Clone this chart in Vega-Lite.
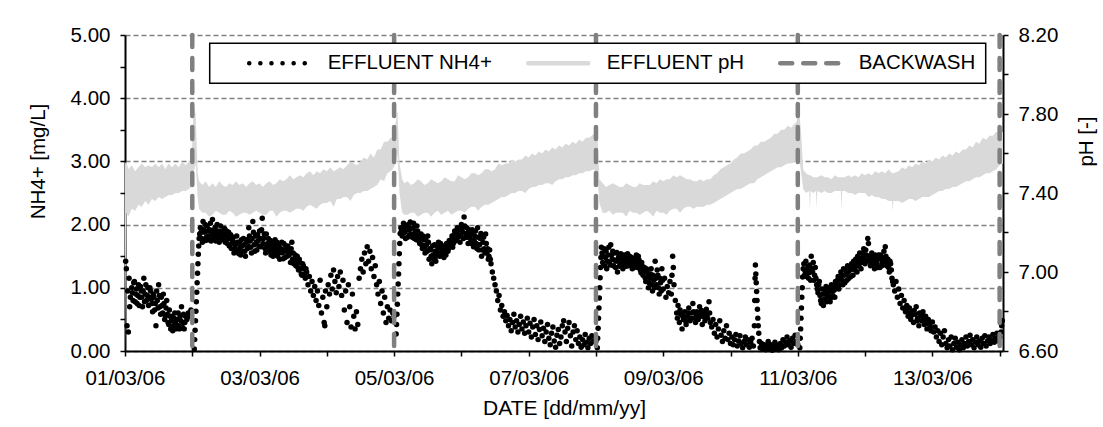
{
"$schema":"https://vega.github.io/schema/vega-lite/v6.json",
"width":878,"height":316,"autosize":"none",
"padding":{"left":125,"top":35,"right":100,"bottom":76},
"background":"white",
"config":{"font":"Liberation Sans","view":{"stroke":null},
"axis":{"labelFont":"Liberation Sans","labelFontSize":20.5,"labelColor":"black","titleFont":"Liberation Sans","titleFontSize":20.5,"titleFontWeight":"normal","titleColor":"black","domainColor":"black","domainWidth":2,"tickColor":"black","tickWidth":1.5,"tickSize":5,"labelPadding":10,"grid":false,"labelFlush":false},
"legend":{"strokeWidth":1.5}},
"resolve":{"scale":{"y":"independent"}},
"layer":[
{"data":{"values":[
{"t":0,"lo":6.6,"hi":7.55},{"t":0.02,"lo":7.30,"hi":7.56},{"t":0.05,"lo":7.28,"hi":7.52},{"t":0.1,"lo":7.32,"hi":7.54},{"t":0.15,"lo":7.31,"hi":7.51},{"t":0.2,"lo":7.34,"hi":7.53},{"t":0.25,"lo":7.33,"hi":7.55},{"t":0.3,"lo":7.36,"hi":7.53},{"t":0.35,"lo":7.34,"hi":7.54},{"t":0.4,"lo":7.37,"hi":7.53},{"t":0.45,"lo":7.36,"hi":7.55},{"t":0.5,"lo":7.38,"hi":7.53},{"t":0.55,"lo":7.37,"hi":7.55},{"t":0.6,"lo":7.38,"hi":7.52},{"t":0.65,"lo":7.39,"hi":7.55},{"t":0.7,"lo":7.39,"hi":7.53},{"t":0.75,"lo":7.40,"hi":7.55},{"t":0.8,"lo":7.40,"hi":7.53},{"t":0.85,"lo":7.41,"hi":7.56},{"t":0.9,"lo":7.41,"hi":7.54},{"t":0.95,"lo":7.42,"hi":7.56},{"t":0.99,"lo":7.43,"hi":7.56},
{"t":1.02,"lo":7.50,"hi":7.85},{"t":1.05,"lo":7.55,"hi":7.80},{"t":1.08,"lo":7.38,"hi":7.50},{"t":1.1,"lo":7.32,"hi":7.46},
{"t":1.15,"lo":7.30,"hi":7.44},{"t":1.2,"lo":7.30,"hi":7.46},{"t":1.25,"lo":7.28,"hi":7.43},{"t":1.3,"lo":7.29,"hi":7.45},{"t":1.35,"lo":7.31,"hi":7.43},{"t":1.4,"lo":7.30,"hi":7.46},{"t":1.45,"lo":7.29,"hi":7.44},{"t":1.5,"lo":7.29,"hi":7.43},{"t":1.55,"lo":7.31,"hi":7.45},{"t":1.6,"lo":7.30,"hi":7.44},{"t":1.65,"lo":7.28,"hi":7.46},{"t":1.7,"lo":7.29,"hi":7.44},{"t":1.75,"lo":7.30,"hi":7.45},{"t":1.8,"lo":7.30,"hi":7.43},{"t":1.85,"lo":7.29,"hi":7.45},{"t":1.9,"lo":7.30,"hi":7.46},{"t":1.95,"lo":7.31,"hi":7.44},{"t":2.0,"lo":7.30,"hi":7.45},{"t":2.05,"lo":7.29,"hi":7.43},{"t":2.1,"lo":7.29,"hi":7.45},{"t":2.15,"lo":7.31,"hi":7.46},{"t":2.2,"lo":7.31,"hi":7.44},{"t":2.25,"lo":7.28,"hi":7.45},{"t":2.3,"lo":7.30,"hi":7.47},{"t":2.35,"lo":7.31,"hi":7.46},{"t":2.4,"lo":7.31,"hi":7.47},{"t":2.45,"lo":7.30,"hi":7.49},{"t":2.5,"lo":7.31,"hi":7.47},{"t":2.55,"lo":7.32,"hi":7.48},{"t":2.6,"lo":7.32,"hi":7.49},{"t":2.65,"lo":7.31,"hi":7.48},{"t":2.7,"lo":7.33,"hi":7.50},{"t":2.75,"lo":7.34,"hi":7.51},{"t":2.8,"lo":7.33,"hi":7.49},{"t":2.85,"lo":7.32,"hi":7.51},{"t":2.9,"lo":7.34,"hi":7.50},{"t":2.95,"lo":7.35,"hi":7.52},{"t":3.0,"lo":7.35,"hi":7.51},{"t":3.05,"lo":7.36,"hi":7.53},{"t":3.1,"lo":7.33,"hi":7.51},{"t":3.15,"lo":7.37,"hi":7.52},{"t":3.2,"lo":7.37,"hi":7.53},{"t":3.25,"lo":7.38,"hi":7.52},{"t":3.3,"lo":7.38,"hi":7.54},{"t":3.35,"lo":7.36,"hi":7.56},{"t":3.4,"lo":7.39,"hi":7.55},{"t":3.45,"lo":7.40,"hi":7.54},{"t":3.5,"lo":7.40,"hi":7.56},{"t":3.55,"lo":7.41,"hi":7.58},{"t":3.6,"lo":7.41,"hi":7.57},{"t":3.65,"lo":7.42,"hi":7.60},{"t":3.7,"lo":7.43,"hi":7.58},{"t":3.75,"lo":7.44,"hi":7.62},{"t":3.8,"lo":7.47,"hi":7.62},{"t":3.85,"lo":7.46,"hi":7.66},{"t":3.9,"lo":7.50,"hi":7.66},{"t":3.95,"lo":7.51,"hi":7.68},{"t":3.98,"lo":7.52,"hi":7.68},
{"t":4.02,"lo":7.55,"hi":7.75},{"t":4.05,"lo":7.60,"hi":7.82},{"t":4.08,"lo":7.40,"hi":7.55},{"t":4.12,"lo":7.30,"hi":7.47},
{"t":4.15,"lo":7.29,"hi":7.45},{"t":4.2,"lo":7.29,"hi":7.46},{"t":4.25,"lo":7.30,"hi":7.44},{"t":4.3,"lo":7.30,"hi":7.45},{"t":4.35,"lo":7.28,"hi":7.47},{"t":4.4,"lo":7.29,"hi":7.46},{"t":4.45,"lo":7.30,"hi":7.44},{"t":4.5,"lo":7.30,"hi":7.45},{"t":4.55,"lo":7.28,"hi":7.47},{"t":4.6,"lo":7.30,"hi":7.46},{"t":4.65,"lo":7.31,"hi":7.45},{"t":4.7,"lo":7.29,"hi":7.46},{"t":4.75,"lo":7.30,"hi":7.48},{"t":4.8,"lo":7.31,"hi":7.47},{"t":4.85,"lo":7.29,"hi":7.46},{"t":4.9,"lo":7.30,"hi":7.46},{"t":4.95,"lo":7.31,"hi":7.49},{"t":5.0,"lo":7.31,"hi":7.48},{"t":5.05,"lo":7.30,"hi":7.47},{"t":5.1,"lo":7.32,"hi":7.48},{"t":5.15,"lo":7.33,"hi":7.50},{"t":5.2,"lo":7.33,"hi":7.50},{"t":5.25,"lo":7.31,"hi":7.49},{"t":5.3,"lo":7.33,"hi":7.50},{"t":5.35,"lo":7.34,"hi":7.52},{"t":5.4,"lo":7.34,"hi":7.52},{"t":5.45,"lo":7.35,"hi":7.51},{"t":5.5,"lo":7.36,"hi":7.52},{"t":5.55,"lo":7.37,"hi":7.55},{"t":5.6,"lo":7.38,"hi":7.54},{"t":5.65,"lo":7.38,"hi":7.55},{"t":5.7,"lo":7.39,"hi":7.55},{"t":5.75,"lo":7.40,"hi":7.57},{"t":5.8,"lo":7.40,"hi":7.56},{"t":5.85,"lo":7.41,"hi":7.57},{"t":5.9,"lo":7.41,"hi":7.57},{"t":5.95,"lo":7.40,"hi":7.59},{"t":6.0,"lo":7.42,"hi":7.58},{"t":6.05,"lo":7.43,"hi":7.60},{"t":6.1,"lo":7.43,"hi":7.59},{"t":6.15,"lo":7.44,"hi":7.61},{"t":6.2,"lo":7.44,"hi":7.60},{"t":6.25,"lo":7.45,"hi":7.62},{"t":6.3,"lo":7.45,"hi":7.61},{"t":6.35,"lo":7.44,"hi":7.63},{"t":6.4,"lo":7.46,"hi":7.62},{"t":6.45,"lo":7.47,"hi":7.64},{"t":6.5,"lo":7.47,"hi":7.63},{"t":6.55,"lo":7.48,"hi":7.65},{"t":6.6,"lo":7.48,"hi":7.64},{"t":6.65,"lo":7.49,"hi":7.66},{"t":6.7,"lo":7.49,"hi":7.65},{"t":6.75,"lo":7.50,"hi":7.67},{"t":6.8,"lo":7.50,"hi":7.66},{"t":6.85,"lo":7.51,"hi":7.68},{"t":6.9,"lo":7.51,"hi":7.68},{"t":6.97,"lo":7.52,"hi":7.70},
{"t":7.02,"lo":7.50,"hi":7.72},{"t":7.05,"lo":7.35,"hi":7.47},{"t":7.1,"lo":7.30,"hi":7.45},
{"t":7.15,"lo":7.30,"hi":7.43},{"t":7.2,"lo":7.31,"hi":7.44},{"t":7.25,"lo":7.29,"hi":7.45},{"t":7.3,"lo":7.30,"hi":7.44},{"t":7.35,"lo":7.30,"hi":7.43},{"t":7.4,"lo":7.30,"hi":7.43},{"t":7.45,"lo":7.28,"hi":7.45},{"t":7.5,"lo":7.31,"hi":7.44},{"t":7.55,"lo":7.30,"hi":7.43},{"t":7.6,"lo":7.30,"hi":7.43},{"t":7.65,"lo":7.29,"hi":7.45},{"t":7.7,"lo":7.30,"hi":7.44},{"t":7.75,"lo":7.31,"hi":7.44},{"t":7.8,"lo":7.30,"hi":7.44},{"t":7.85,"lo":7.28,"hi":7.46},{"t":7.9,"lo":7.31,"hi":7.45},{"t":7.95,"lo":7.30,"hi":7.47},{"t":8.0,"lo":7.30,"hi":7.46},{"t":8.05,"lo":7.29,"hi":7.47},{"t":8.1,"lo":7.31,"hi":7.47},{"t":8.15,"lo":7.32,"hi":7.49},{"t":8.2,"lo":7.32,"hi":7.48},{"t":8.25,"lo":7.30,"hi":7.49},{"t":8.3,"lo":7.32,"hi":7.48},{"t":8.35,"lo":7.33,"hi":7.47},{"t":8.4,"lo":7.33,"hi":7.47},{"t":8.45,"lo":7.32,"hi":7.46},{"t":8.5,"lo":7.33,"hi":7.46},{"t":8.55,"lo":7.33,"hi":7.47},{"t":8.6,"lo":7.33,"hi":7.46},{"t":8.65,"lo":7.34,"hi":7.47},{"t":8.7,"lo":7.34,"hi":7.47},{"t":8.75,"lo":7.35,"hi":7.49},{"t":8.8,"lo":7.36,"hi":7.50},{"t":8.85,"lo":7.37,"hi":7.52},{"t":8.9,"lo":7.38,"hi":7.53},{"t":8.95,"lo":7.39,"hi":7.54},{"t":9.0,"lo":7.40,"hi":7.55},{"t":9.05,"lo":7.41,"hi":7.57},{"t":9.1,"lo":7.42,"hi":7.58},{"t":9.15,"lo":7.42,"hi":7.60},{"t":9.2,"lo":7.43,"hi":7.60},{"t":9.25,"lo":7.44,"hi":7.61},{"t":9.3,"lo":7.45,"hi":7.62},{"t":9.35,"lo":7.45,"hi":7.64},{"t":9.4,"lo":7.47,"hi":7.64},{"t":9.45,"lo":7.48,"hi":7.66},{"t":9.5,"lo":7.49,"hi":7.66},{"t":9.55,"lo":7.50,"hi":7.67},{"t":9.6,"lo":7.51,"hi":7.68},{"t":9.65,"lo":7.52,"hi":7.70},{"t":9.7,"lo":7.53,"hi":7.70},{"t":9.75,"lo":7.53,"hi":7.72},{"t":9.8,"lo":7.54,"hi":7.72},{"t":9.85,"lo":7.55,"hi":7.74},{"t":9.9,"lo":7.55,"hi":7.73},{"t":9.95,"lo":7.56,"hi":7.75},{"t":9.98,"lo":7.56,"hi":7.76},
{"t":10.02,"lo":7.58,"hi":7.82},{"t":10.05,"lo":7.50,"hi":7.70},{"t":10.08,"lo":7.42,"hi":7.52},{"t":10.12,"lo":7.40,"hi":7.50},
{"t":10.17,"lo":7.41,"hi":7.49},{"t":10.18,"lo":7.31,"hi":7.49},{"t":10.19,"lo":7.41,"hi":7.49},{"t":10.23,"lo":7.40,"hi":7.48},{"t":10.27,"lo":7.41,"hi":7.48},{"t":10.28,"lo":7.32,"hi":7.48},{"t":10.29,"lo":7.41,"hi":7.48},{"t":10.35,"lo":7.40,"hi":7.49},{"t":10.4,"lo":7.41,"hi":7.48},{"t":10.45,"lo":7.40,"hi":7.48},{"t":10.5,"lo":7.40,"hi":7.47},{"t":10.55,"lo":7.41,"hi":7.49},{"t":10.6,"lo":7.41,"hi":7.48},{"t":10.64,"lo":7.41,"hi":7.48},{"t":10.65,"lo":7.31,"hi":7.48},{"t":10.66,"lo":7.41,"hi":7.48},{"t":10.7,"lo":7.41,"hi":7.48},{"t":10.75,"lo":7.40,"hi":7.49},{"t":10.8,"lo":7.40,"hi":7.48},{"t":10.85,"lo":7.39,"hi":7.49},{"t":10.9,"lo":7.40,"hi":7.48},{"t":10.95,"lo":7.40,"hi":7.50},{"t":11.0,"lo":7.40,"hi":7.49},{"t":11.05,"lo":7.38,"hi":7.50},{"t":11.1,"lo":7.39,"hi":7.49},{"t":11.15,"lo":7.38,"hi":7.51},{"t":11.2,"lo":7.38,"hi":7.50},{"t":11.25,"lo":7.37,"hi":7.51},{"t":11.3,"lo":7.37,"hi":7.50},{"t":11.35,"lo":7.36,"hi":7.52},{"t":11.40,"lo":7.36,"hi":7.50},{"t":11.41,"lo":7.31,"hi":7.50},{"t":11.42,"lo":7.36,"hi":7.50},{"t":11.5,"lo":7.36,"hi":7.51},{"t":11.55,"lo":7.35,"hi":7.53},{"t":11.6,"lo":7.36,"hi":7.52},{"t":11.65,"lo":7.37,"hi":7.54},{"t":11.7,"lo":7.37,"hi":7.53},{"t":11.75,"lo":7.36,"hi":7.55},{"t":11.8,"lo":7.37,"hi":7.54},{"t":11.85,"lo":7.38,"hi":7.56},{"t":11.9,"lo":7.38,"hi":7.55},{"t":11.95,"lo":7.38,"hi":7.57},{"t":12.0,"lo":7.39,"hi":7.56},{"t":12.05,"lo":7.40,"hi":7.58},{"t":12.1,"lo":7.41,"hi":7.57},{"t":12.15,"lo":7.41,"hi":7.59},{"t":12.2,"lo":7.42,"hi":7.58},{"t":12.25,"lo":7.42,"hi":7.60},{"t":12.3,"lo":7.43,"hi":7.59},{"t":12.35,"lo":7.43,"hi":7.61},{"t":12.4,"lo":7.44,"hi":7.60},{"t":12.45,"lo":7.45,"hi":7.62},{"t":12.5,"lo":7.46,"hi":7.62},{"t":12.55,"lo":7.46,"hi":7.64},{"t":12.6,"lo":7.47,"hi":7.63},{"t":12.65,"lo":7.48,"hi":7.66},{"t":12.7,"lo":7.48,"hi":7.65},{"t":12.75,"lo":7.49,"hi":7.68},{"t":12.8,"lo":7.50,"hi":7.67},{"t":12.85,"lo":7.50,"hi":7.69},{"t":12.9,"lo":7.51,"hi":7.69},{"t":12.95,"lo":7.52,"hi":7.71},{"t":13.0,"lo":7.54,"hi":7.70},{"t":13.05,"lo":7.55,"hi":7.71}
]},
"mark":{"type":"area","color":"#d9d9d9","clip":true},
"encoding":{
"x":{"field":"t","type":"quantitative","scale":{"domain":[0,13.05],"nice":false,"zero":false},
"axis":{"title":"DATE [dd/mm/yy]","titleFontSize":21,"titlePadding":9,"labelPadding":12,"values":[0,1,2,3,4,5,6,7,8,9,10,11,12,13],"labelExpr":"datum.value % 2 == 0 ? timeFormat(datetime(2006, 2, 1 + datum.value), '%d/%m/%y') : ''"}},
"y":{"field":"lo","type":"quantitative","scale":{"domain":[6.6,8.2],"nice":false,"zero":false},
"axis":{"orient":"right","title":"pH [-]","titleAngle":270,"titleBaseline":"top","titlePadding":19,"titleY":106,"values":[6.6,6.8,7.0,7.2,7.4,7.6,7.8,8.0,8.2],"labelExpr":"indexof(['6.60','7.00','7.40','7.80','8.20'], format(datum.value,'.2f')) >= 0 ? format(datum.value,'.2f') : ''"}},
"y2":{"field":"hi"}}},
{"data":{"values":[
{"t":0.01,"v":1.42},{"t":0.02,"v":1.30},{"t":0.03,"v":0.40},{"t":0.04,"v":0.95},{"t":0.05,"v":0.30},{"t":0.06,"v":1.15},{"t":0.07,"v":0.70},{"t":0.08,"v":0.85},{"t":0.10,"v":1.00},{"t":0.12,"v":0.80},{"t":0.14,"v":1.10},{"t":0.16,"v":0.90},{"t":0.18,"v":0.75},{"t":0.20,"v":1.05},{"t":0.22,"v":0.85},{"t":0.24,"v":0.95},{"t":0.26,"v":0.70},{"t":0.28,"v":1.15},{"t":0.30,"v":0.90},{"t":0.32,"v":0.80},{"t":0.34,"v":1.00},{"t":0.36,"v":0.85},{"t":0.38,"v":0.95},{"t":0.40,"v":0.75},{"t":0.42,"v":0.90},{"t":0.44,"v":0.65},{"t":0.46,"v":0.40},{"t":0.48,"v":0.80},{"t":0.50,"v":1.05},{"t":0.52,"v":0.70},{"t":0.54,"v":0.85},{"t":0.56,"v":0.60},{"t":0.58,"v":0.75},{"t":0.60,"v":0.55},{"t":0.62,"v":0.80},{"t":0.64,"v":0.45},{"t":0.66,"v":0.65},{"t":0.68,"v":0.35},{"t":0.70,"v":0.55},{"t":0.72,"v":0.40},{"t":0.74,"v":0.60},{"t":0.76,"v":0.35},{"t":0.78,"v":0.50},{"t":0.80,"v":0.40},{"t":0.82,"v":0.55},{"t":0.84,"v":0.70},{"t":0.86,"v":0.45},{"t":0.88,"v":0.35},{"t":0.90,"v":0.55},{"t":0.92,"v":0.50},{"t":0.94,"v":0.60},{"t":0.96,"v":0.55},{"t":0.98,"v":0.65},
{"t":0.11,"v":0.92},{"t":0.13,"v":1.08},{"t":0.15,"v":0.78},{"t":0.17,"v":0.98},{"t":0.19,"v":0.88},{"t":0.21,"v":0.72},{"t":0.23,"v":1.02},{"t":0.25,"v":0.85},{"t":0.27,"v":0.95},{"t":0.29,"v":0.78},{"t":0.31,"v":1.05},{"t":0.33,"v":0.88},{"t":0.35,"v":0.72},{"t":0.37,"v":1.00},{"t":0.39,"v":0.82},{"t":0.41,"v":0.62},{"t":0.43,"v":0.85},{"t":0.45,"v":0.75},{"t":0.47,"v":0.95},{"t":0.49,"v":0.68},{"t":0.51,"v":0.88},{"t":0.53,"v":0.58},{"t":0.55,"v":0.72},{"t":0.57,"v":0.90},{"t":0.59,"v":0.50},{"t":0.61,"v":0.68},{"t":0.63,"v":0.58},{"t":0.65,"v":0.42},{"t":0.67,"v":0.55},{"t":0.69,"v":0.48},{"t":0.71,"v":0.32},{"t":0.73,"v":0.52},{"t":0.75,"v":0.45},{"t":0.77,"v":0.40},{"t":0.79,"v":0.60},{"t":0.81,"v":0.35},{"t":0.83,"v":0.48},{"t":0.85,"v":0.38},{"t":0.87,"v":0.58},{"t":0.89,"v":0.45},
{"t":1.030,"v":0.03},{"t":1.036,"v":0.18},{"t":1.042,"v":0.33},{"t":1.048,"v":0.48},{"t":1.054,"v":0.63},{"t":1.060,"v":0.78},{"t":1.066,"v":0.93},{"t":1.072,"v":1.08},{"t":1.078,"v":1.23},{"t":1.084,"v":1.38},{"t":1.090,"v":1.53},{"t":1.096,"v":1.66},{"t":1.102,"v":1.78},
{"t":1.11,"v":1.85},{"t":1.12,"v":1.95},{"t":1.14,"v":1.78},{"t":1.16,"v":2.05},{"t":1.18,"v":1.88},{"t":1.20,"v":1.75},{"t":1.22,"v":1.98},{"t":1.24,"v":1.82},{"t":1.26,"v":1.92},{"t":1.28,"v":1.74},{"t":1.30,"v":2.08},{"t":1.32,"v":1.86},{"t":1.34,"v":1.96},{"t":1.36,"v":1.80},{"t":1.38,"v":1.90},{"t":1.40,"v":1.72},{"t":1.42,"v":1.98},{"t":1.44,"v":1.84},{"t":1.46,"v":1.76},{"t":1.48,"v":1.94},{"t":1.50,"v":1.82},{"t":1.52,"v":1.70},{"t":1.54,"v":1.88},{"t":1.56,"v":1.78},{"t":1.58,"v":1.62},{"t":1.60,"v":1.75},{"t":1.62,"v":1.55},{"t":1.64,"v":1.68},{"t":1.66,"v":1.82},{"t":1.68,"v":1.60},{"t":1.70,"v":1.72},{"t":1.72,"v":1.52},{"t":1.74,"v":1.66},{"t":1.76,"v":1.78},{"t":1.78,"v":1.58},{"t":1.80,"v":1.70},{"t":1.82,"v":1.62},{"t":1.84,"v":1.95},{"t":1.86,"v":1.74},{"t":1.88,"v":1.55},{"t":1.90,"v":2.05},{"t":1.92,"v":1.68},{"t":1.94,"v":1.82},{"t":1.96,"v":1.60},{"t":1.98,"v":1.75},{"t":2.00,"v":1.90},{"t":2.02,"v":1.65},{"t":2.04,"v":2.10},{"t":2.06,"v":1.78},{"t":2.08,"v":1.62},{"t":2.10,"v":1.85},{"t":2.12,"v":1.70},{"t":2.14,"v":1.58},{"t":2.16,"v":1.75},{"t":2.18,"v":1.62},{"t":2.20,"v":1.50},{"t":2.22,"v":1.68},{"t":2.24,"v":1.56},{"t":2.26,"v":1.72},{"t":2.28,"v":1.60},{"t":2.30,"v":1.45},{"t":2.32,"v":1.62},{"t":2.34,"v":1.55},{"t":2.36,"v":1.70},{"t":2.38,"v":1.48},{"t":2.40,"v":1.58},{"t":2.42,"v":1.66},{"t":2.44,"v":1.52},{"t":2.46,"v":1.40},{"t":2.48,"v":1.72},{"t":2.50,"v":1.55},{"t":2.52,"v":1.45},{"t":2.54,"v":1.35},{"t":2.56,"v":1.50},{"t":2.58,"v":1.28},{"t":2.60,"v":1.40},{"t":2.62,"v":1.22},{"t":2.64,"v":1.38},{"t":2.66,"v":1.30},{"t":2.68,"v":1.15},{"t":2.70,"v":1.25},{"t":2.72,"v":1.05},{"t":2.74,"v":1.18},{"t":2.76,"v":0.95},{"t":2.78,"v":1.10},{"t":2.80,"v":0.88},{"t":2.82,"v":1.02},{"t":2.84,"v":0.80},{"t":2.86,"v":0.95},{"t":2.88,"v":0.72},{"t":2.90,"v":1.12},{"t":2.92,"v":0.60},{"t":2.94,"v":0.85},{"t":2.96,"v":0.45},{"t":2.97,"v":0.40},{"t":2.98,"v":0.95},{"t":3.00,"v":0.70},{"t":3.02,"v":1.05},{"t":3.04,"v":0.90},{"t":3.06,"v":1.20},{"t":3.08,"v":0.98},{"t":3.10,"v":1.28},{"t":3.12,"v":1.10},{"t":3.14,"v":0.92},{"t":3.16,"v":1.18},{"t":3.18,"v":1.02},{"t":3.20,"v":1.25},{"t":3.22,"v":0.88},{"t":3.24,"v":1.12},{"t":3.26,"v":0.65},{"t":3.28,"v":0.95},{"t":3.30,"v":0.45},{"t":3.32,"v":1.05},{"t":3.34,"v":0.70},{"t":3.36,"v":0.38},{"t":3.38,"v":0.90},{"t":3.40,"v":0.55},{"t":3.42,"v":0.35},{"t":3.44,"v":0.62},{"t":3.46,"v":0.42},{"t":3.48,"v":1.15},{"t":3.50,"v":1.30},{"t":3.52,"v":1.45},{"t":3.54,"v":1.25},{"t":3.56,"v":1.55},{"t":3.58,"v":1.38},{"t":3.60,"v":1.65},{"t":3.62,"v":1.42},{"t":3.64,"v":1.58},{"t":3.66,"v":1.30},{"t":3.68,"v":1.48},{"t":3.70,"v":1.18},{"t":3.72,"v":1.35},{"t":3.74,"v":1.05},{"t":3.76,"v":0.90},{"t":3.78,"v":1.10},{"t":3.80,"v":0.75},{"t":3.82,"v":0.95},{"t":3.84,"v":0.60},{"t":3.86,"v":0.85},{"t":3.88,"v":0.45},{"t":3.90,"v":0.70},{"t":3.92,"v":0.52},{"t":3.94,"v":0.65},{"t":3.96,"v":0.48},{"t":3.98,"v":0.60},{"t":4.00,"v":0.55},
{"t":1.13,"v":1.88},{"t":1.15,"v":1.72},{"t":1.17,"v":1.92},{"t":1.19,"v":2.00},{"t":1.21,"v":1.80},{"t":1.23,"v":1.90},{"t":1.25,"v":1.76},{"t":1.27,"v":2.02},{"t":1.29,"v":1.85},{"t":1.31,"v":1.78},{"t":1.33,"v":1.92},{"t":1.35,"v":1.74},{"t":1.37,"v":2.00},{"t":1.39,"v":1.84},{"t":1.41,"v":1.78},{"t":1.43,"v":1.90},{"t":1.45,"v":1.80},{"t":1.47,"v":1.86},{"t":1.49,"v":1.72},{"t":1.51,"v":1.90},{"t":1.53,"v":1.78},{"t":1.55,"v":1.66},{"t":1.57,"v":1.84},{"t":1.59,"v":1.70},{"t":1.61,"v":1.80},{"t":1.63,"v":1.62},{"t":1.65,"v":1.58},{"t":1.67,"v":1.72},{"t":1.69,"v":1.54},{"t":1.71,"v":1.64},{"t":1.73,"v":1.76},{"t":1.75,"v":1.58},{"t":1.77,"v":1.68},{"t":1.79,"v":1.50},{"t":1.81,"v":1.76},{"t":1.83,"v":1.66},{"t":1.85,"v":1.82},{"t":1.87,"v":1.64},{"t":1.89,"v":1.78},{"t":1.91,"v":1.88},{"t":1.93,"v":1.58},{"t":1.95,"v":1.72},{"t":1.97,"v":1.84},{"t":1.99,"v":1.66},{"t":2.01,"v":1.78},{"t":2.03,"v":1.92},{"t":2.05,"v":1.70},{"t":2.07,"v":1.85},{"t":2.09,"v":1.55},{"t":2.11,"v":1.66},{"t":2.13,"v":1.78},{"t":2.15,"v":1.64},{"t":2.17,"v":1.52},{"t":2.19,"v":1.70},{"t":2.21,"v":1.58},{"t":2.23,"v":1.76},{"t":2.25,"v":1.62},{"t":2.27,"v":1.50},{"t":2.29,"v":1.68},{"t":2.31,"v":1.56},{"t":2.33,"v":1.72},{"t":2.35,"v":1.46},{"t":2.37,"v":1.60},{"t":2.39,"v":1.66},{"t":2.41,"v":1.50},{"t":2.43,"v":1.60},{"t":2.45,"v":1.55},{"t":2.47,"v":1.62},{"t":2.49,"v":1.45},{"t":2.51,"v":1.38},{"t":2.53,"v":1.52},{"t":2.55,"v":1.42},{"t":2.57,"v":1.32},{"t":2.59,"v":1.45},{"t":2.61,"v":1.30},{"t":2.63,"v":1.20},{"t":2.65,"v":1.35},{"t":2.67,"v":1.22},{"t":2.69,"v":1.30},
{"t":4.030,"v":0.27},{"t":4.036,"v":0.42},{"t":4.042,"v":0.58},{"t":4.048,"v":0.74},{"t":4.054,"v":0.90},{"t":4.060,"v":1.06},{"t":4.066,"v":1.22},{"t":4.072,"v":1.38},{"t":4.078,"v":1.54},{"t":4.084,"v":1.70},{"t":4.090,"v":1.86},
{"t":4.10,"v":1.95},{"t":4.12,"v":1.82},{"t":4.14,"v":2.02},{"t":4.16,"v":1.88},{"t":4.18,"v":1.98},{"t":4.20,"v":1.80},{"t":4.22,"v":1.92},{"t":4.24,"v":2.04},{"t":4.26,"v":1.85},{"t":4.28,"v":1.95},{"t":4.30,"v":1.78},{"t":4.32,"v":1.90},{"t":4.34,"v":1.98},{"t":4.36,"v":1.82},{"t":4.38,"v":1.70},{"t":4.40,"v":1.85},{"t":4.42,"v":1.62},{"t":4.44,"v":1.76},{"t":4.46,"v":1.55},{"t":4.48,"v":1.68},{"t":4.50,"v":1.82},{"t":4.52,"v":1.45},{"t":4.54,"v":1.60},{"t":4.56,"v":1.38},{"t":4.58,"v":1.52},{"t":4.60,"v":1.68},{"t":4.62,"v":1.42},{"t":4.64,"v":1.58},{"t":4.66,"v":1.72},{"t":4.68,"v":1.50},{"t":4.70,"v":1.65},{"t":4.72,"v":1.55},{"t":4.74,"v":1.48},{"t":4.76,"v":1.62},{"t":4.78,"v":1.70},{"t":4.80,"v":1.58},{"t":4.82,"v":1.75},{"t":4.84,"v":1.66},{"t":4.86,"v":1.82},{"t":4.88,"v":1.70},{"t":4.90,"v":1.90},{"t":4.92,"v":1.78},{"t":4.94,"v":1.95},{"t":4.96,"v":1.84},{"t":4.98,"v":1.72},{"t":5.00,"v":2.00},{"t":5.02,"v":1.88},{"t":5.04,"v":2.12},{"t":5.06,"v":1.80},{"t":5.08,"v":1.95},{"t":5.10,"v":1.70},{"t":5.12,"v":1.88},{"t":5.14,"v":1.76},{"t":5.16,"v":1.92},{"t":5.18,"v":1.65},{"t":5.20,"v":1.82},{"t":5.22,"v":1.70},{"t":5.24,"v":1.95},{"t":5.26,"v":1.60},{"t":5.28,"v":1.78},{"t":5.30,"v":1.50},{"t":5.32,"v":1.72},{"t":5.34,"v":1.62},{"t":5.36,"v":1.85},{"t":5.38,"v":1.55},{"t":5.40,"v":1.45},{"t":5.42,"v":1.60},{"t":5.44,"v":1.38},{"t":5.46,"v":1.25},{"t":5.48,"v":1.15},{"t":5.50,"v":1.05},{"t":5.52,"v":0.95},{"t":5.54,"v":0.80},{"t":5.56,"v":0.88},{"t":5.58,"v":0.65},{"t":5.60,"v":0.72},{"t":5.62,"v":0.55},{"t":5.64,"v":0.62},{"t":5.66,"v":0.48},{"t":5.68,"v":0.56},{"t":5.70,"v":0.40},{"t":5.72,"v":0.50},{"t":5.74,"v":0.32},{"t":5.76,"v":0.45},{"t":5.78,"v":0.58},{"t":5.80,"v":0.38},{"t":5.82,"v":0.48},{"t":5.84,"v":0.30},{"t":5.86,"v":0.42},{"t":5.88,"v":0.55},{"t":5.90,"v":0.35},{"t":5.92,"v":0.46},{"t":5.94,"v":0.28},{"t":5.96,"v":0.40},{"t":5.98,"v":0.52},{"t":6.00,"v":0.30},{"t":6.02,"v":0.44},{"t":6.04,"v":0.22},{"t":6.06,"v":0.38},{"t":6.08,"v":0.50},{"t":6.10,"v":0.26},{"t":6.12,"v":0.40},{"t":6.14,"v":0.18},{"t":6.16,"v":0.34},{"t":6.18,"v":0.46},{"t":6.20,"v":0.24},{"t":6.22,"v":0.36},{"t":6.24,"v":0.15},{"t":6.26,"v":0.30},{"t":6.28,"v":0.42},{"t":6.30,"v":0.20},{"t":6.32,"v":0.10},{"t":6.34,"v":0.28},{"t":6.36,"v":0.38},{"t":6.38,"v":0.16},{"t":6.40,"v":0.06},{"t":6.42,"v":0.25},{"t":6.44,"v":0.34},{"t":6.46,"v":0.12},{"t":6.48,"v":0.22},{"t":6.50,"v":0.40},{"t":6.52,"v":0.48},{"t":6.54,"v":0.30},{"t":6.56,"v":0.15},{"t":6.58,"v":0.36},{"t":6.60,"v":0.45},{"t":6.62,"v":0.24},{"t":6.64,"v":0.08},{"t":6.66,"v":0.30},{"t":6.68,"v":0.40},{"t":6.70,"v":0.18},{"t":6.72,"v":0.32},{"t":6.74,"v":0.12},{"t":6.76,"v":0.22},{"t":6.78,"v":0.06},{"t":6.80,"v":0.18},{"t":6.82,"v":0.10},{"t":6.84,"v":0.26},{"t":6.86,"v":0.14},{"t":6.88,"v":0.05},{"t":6.90,"v":0.20},{"t":6.92,"v":0.12},{"t":6.94,"v":0.24},{"t":6.96,"v":0.15},{"t":6.98,"v":0.22},{"t":7.00,"v":0.16},
{"t":4.11,"v":1.90},{"t":4.13,"v":1.86},{"t":4.15,"v":1.96},{"t":4.17,"v":1.78},{"t":4.19,"v":1.92},{"t":4.21,"v":2.00},{"t":4.23,"v":1.84},{"t":4.25,"v":1.94},{"t":4.27,"v":1.80},{"t":4.29,"v":2.02},{"t":4.31,"v":1.86},{"t":4.33,"v":1.76},{"t":4.35,"v":1.90},{"t":4.37,"v":1.74},{"t":4.39,"v":1.80},{"t":4.41,"v":1.68},{"t":4.43,"v":1.82},{"t":4.45,"v":1.64},{"t":4.47,"v":1.76},{"t":4.49,"v":1.58},{"t":4.51,"v":1.72},{"t":4.53,"v":1.62},{"t":4.55,"v":1.50},{"t":4.57,"v":1.66},{"t":4.59,"v":1.45},{"t":4.61,"v":1.58},{"t":4.63,"v":1.50},{"t":4.65,"v":1.64},{"t":4.67,"v":1.55},{"t":4.69,"v":1.70},{"t":4.71,"v":1.60},{"t":4.73,"v":1.66},{"t":4.75,"v":1.56},{"t":4.77,"v":1.52},{"t":4.79,"v":1.66},{"t":4.81,"v":1.62},{"t":4.83,"v":1.70},{"t":4.85,"v":1.76},{"t":4.87,"v":1.64},{"t":4.89,"v":1.84},{"t":4.91,"v":1.74},{"t":4.93,"v":1.86},{"t":4.95,"v":1.80},{"t":4.97,"v":1.92},{"t":4.99,"v":1.82},{"t":5.01,"v":1.94},{"t":5.03,"v":1.78},{"t":5.05,"v":1.98},{"t":5.07,"v":1.86},{"t":5.09,"v":1.80},{"t":5.11,"v":1.92},{"t":5.13,"v":1.82},{"t":5.15,"v":1.70},{"t":5.17,"v":1.85},{"t":5.19,"v":1.75},{"t":5.21,"v":1.90},{"t":5.23,"v":1.62},{"t":5.25,"v":1.80},{"t":5.27,"v":1.68},{"t":5.29,"v":1.86},{"t":5.31,"v":1.60},{"t":5.33,"v":1.80},{"t":5.35,"v":1.55},{"t":5.37,"v":1.70},{"t":5.39,"v":1.62},{"t":5.41,"v":1.50},{"t":5.43,"v":1.45},
{"t":7.020,"v":0.05},{"t":7.026,"v":0.20},{"t":7.032,"v":0.36},{"t":7.038,"v":0.52},{"t":7.044,"v":0.68},{"t":7.050,"v":0.84},{"t":7.056,"v":1.00},{"t":7.062,"v":1.16},{"t":7.068,"v":1.32},{"t":7.074,"v":1.48},{"t":7.080,"v":1.64},
{"t":7.09,"v":1.55},{"t":7.10,"v":1.40},{"t":7.12,"v":1.62},{"t":7.14,"v":1.48},{"t":7.16,"v":1.30},{"t":7.18,"v":1.52},{"t":7.20,"v":1.40},{"t":7.22,"v":1.68},{"t":7.24,"v":1.45},{"t":7.26,"v":1.35},{"t":7.28,"v":1.55},{"t":7.30,"v":1.42},{"t":7.32,"v":1.25},{"t":7.34,"v":1.50},{"t":7.36,"v":1.38},{"t":7.38,"v":1.46},{"t":7.40,"v":1.30},{"t":7.42,"v":1.52},{"t":7.44,"v":1.40},{"t":7.46,"v":1.48},{"t":7.48,"v":1.35},{"t":7.50,"v":1.50},{"t":7.52,"v":1.40},{"t":7.54,"v":1.30},{"t":7.56,"v":1.46},{"t":7.58,"v":1.38},{"t":7.60,"v":1.52},{"t":7.62,"v":1.32},{"t":7.64,"v":1.44},{"t":7.66,"v":1.28},{"t":7.68,"v":1.40},{"t":7.70,"v":1.20},{"t":7.72,"v":1.32},{"t":7.74,"v":1.10},{"t":7.76,"v":1.25},{"t":7.78,"v":1.00},{"t":7.80,"v":1.15},{"t":7.82,"v":1.30},{"t":7.84,"v":0.95},{"t":7.86,"v":1.12},{"t":7.88,"v":1.42},{"t":7.90,"v":1.05},{"t":7.92,"v":1.20},{"t":7.94,"v":0.90},{"t":7.96,"v":1.08},{"t":7.98,"v":1.30},{"t":8.00,"v":0.98},{"t":8.02,"v":1.15},{"t":8.04,"v":0.85},{"t":8.06,"v":1.02},{"t":8.08,"v":0.92},{"t":8.10,"v":1.10},{"t":8.12,"v":0.90},{"t":8.13,"v":1.20},{"t":8.14,"v":1.50},{"t":8.15,"v":1.32},{"t":8.16,"v":1.05},{"t":8.18,"v":0.80},{"t":8.20,"v":0.60},{"t":8.22,"v":0.72},{"t":8.24,"v":0.45},{"t":8.26,"v":0.58},{"t":8.28,"v":0.35},{"t":8.30,"v":0.50},{"t":8.32,"v":0.62},{"t":8.34,"v":0.42},{"t":8.36,"v":0.55},{"t":8.38,"v":0.68},{"t":8.40,"v":0.48},{"t":8.42,"v":0.60},{"t":8.44,"v":0.75},{"t":8.46,"v":0.52},{"t":8.48,"v":0.45},{"t":8.50,"v":0.62},{"t":8.52,"v":0.50},{"t":8.54,"v":0.70},{"t":8.56,"v":0.55},{"t":8.58,"v":0.42},{"t":8.60,"v":0.60},{"t":8.62,"v":0.48},{"t":8.64,"v":0.66},{"t":8.66,"v":0.52},{"t":8.68,"v":0.78},{"t":8.70,"v":0.45},{"t":8.72,"v":0.38},{"t":8.74,"v":0.50},{"t":8.76,"v":0.28},{"t":8.78,"v":0.42},{"t":8.80,"v":0.22},{"t":8.82,"v":0.35},{"t":8.84,"v":0.48},{"t":8.86,"v":0.25},{"t":8.88,"v":0.15},{"t":8.90,"v":0.32},{"t":8.92,"v":0.20},{"t":8.94,"v":0.40},{"t":8.96,"v":0.18},{"t":8.98,"v":0.28},{"t":9.00,"v":0.12},{"t":9.02,"v":0.22},{"t":9.04,"v":0.10},{"t":9.06,"v":0.18},{"t":9.08,"v":0.26},{"t":9.10,"v":0.08},{"t":9.12,"v":0.16},{"t":9.14,"v":0.24},{"t":9.16,"v":0.12},{"t":9.18,"v":0.05},{"t":9.20,"v":0.15},{"t":9.22,"v":0.22},{"t":9.24,"v":0.10},{"t":9.26,"v":0.18},{"t":9.28,"v":0.06},{"t":9.30,"v":0.14},{"t":9.32,"v":0.20},{"t":9.34,"v":0.08},
{"t":7.11,"v":1.50},{"t":7.13,"v":1.35},{"t":7.15,"v":1.58},{"t":7.17,"v":1.42},{"t":7.19,"v":1.64},{"t":7.21,"v":1.36},{"t":7.23,"v":1.52},{"t":7.25,"v":1.58},{"t":7.27,"v":1.44},{"t":7.29,"v":1.32},{"t":7.31,"v":1.56},{"t":7.33,"v":1.46},{"t":7.35,"v":1.34},{"t":7.37,"v":1.54},{"t":7.39,"v":1.40},{"t":7.41,"v":1.36},{"t":7.43,"v":1.46},{"t":7.45,"v":1.34},{"t":7.47,"v":1.54},{"t":7.49,"v":1.44},{"t":7.51,"v":1.36},{"t":7.53,"v":1.48},{"t":7.55,"v":1.42},{"t":7.57,"v":1.32},{"t":7.59,"v":1.44},{"t":7.61,"v":1.40},{"t":7.63,"v":1.50},{"t":7.65,"v":1.36},{"t":7.67,"v":1.24},{"t":7.69,"v":1.34},{"t":7.71,"v":1.26},{"t":7.73,"v":1.16},{"t":7.75,"v":1.30},{"t":7.77,"v":1.18},{"t":7.79,"v":1.08},{"t":7.81,"v":1.22},{"t":7.83,"v":1.05},{"t":7.85,"v":1.20},{"t":7.87,"v":1.00},{"t":7.89,"v":1.15},{"t":7.91,"v":1.28},{"t":7.93,"v":1.00},{"t":7.95,"v":1.15},{"t":7.97,"v":0.95},{"t":7.99,"v":1.12},
{"t":8.21,"v":0.52},{"t":8.25,"v":0.65},{"t":8.29,"v":0.55},{"t":8.33,"v":0.48},{"t":8.37,"v":0.60},{"t":8.41,"v":0.52},{"t":8.45,"v":0.62},{"t":8.49,"v":0.56},{"t":8.53,"v":0.58},{"t":8.57,"v":0.64},{"t":8.61,"v":0.54},{"t":8.65,"v":0.58},{"t":8.69,"v":0.60},
{"t":9.355,"v":0.40},{"t":9.360,"v":0.80},{"t":9.365,"v":1.15},{"t":9.370,"v":1.36},{"t":9.376,"v":1.22},{"t":9.382,"v":1.08},{"t":9.388,"v":0.94},{"t":9.394,"v":0.80},{"t":9.400,"v":0.66},{"t":9.406,"v":0.52},{"t":9.412,"v":0.40},{"t":9.420,"v":0.28},{"t":9.430,"v":0.15},
{"t":9.44,"v":0.05},{"t":9.46,"v":0.12},{"t":9.48,"v":0.03},{"t":9.50,"v":0.10},{"t":9.52,"v":0.02},{"t":9.54,"v":0.08},{"t":9.56,"v":0.15},{"t":9.58,"v":0.04},{"t":9.60,"v":0.10},{"t":9.62,"v":0.01},{"t":9.64,"v":0.07},{"t":9.66,"v":0.14},{"t":9.68,"v":0.03},{"t":9.70,"v":0.09},{"t":9.72,"v":0.02},{"t":9.74,"v":0.12},{"t":9.76,"v":0.05},{"t":9.78,"v":0.18},{"t":9.80,"v":0.08},{"t":9.82,"v":0.14},{"t":9.84,"v":0.22},{"t":9.86,"v":0.10},{"t":9.88,"v":0.16},{"t":9.90,"v":0.06},{"t":9.92,"v":0.20},{"t":9.94,"v":0.12},{"t":9.96,"v":0.25},{"t":9.98,"v":0.15},{"t":10.00,"v":0.10},
{"t":10.030,"v":0.05},{"t":10.036,"v":0.20},{"t":10.042,"v":0.35},{"t":10.048,"v":0.52},{"t":10.054,"v":0.68},{"t":10.060,"v":0.85},{"t":10.066,"v":1.00},{"t":10.072,"v":1.17},
{"t":10.08,"v":1.30},{"t":10.10,"v":1.20},{"t":10.12,"v":1.42},{"t":10.14,"v":1.28},{"t":10.16,"v":1.15},{"t":10.18,"v":1.36},{"t":10.20,"v":1.50},{"t":10.22,"v":1.25},{"t":10.24,"v":1.12},{"t":10.26,"v":1.32},{"t":10.28,"v":1.05},{"t":10.30,"v":0.92},{"t":10.32,"v":1.10},{"t":10.34,"v":0.80},{"t":10.36,"v":0.98},{"t":10.38,"v":0.72},{"t":10.40,"v":0.90},{"t":10.42,"v":1.02},{"t":10.44,"v":0.85},{"t":10.46,"v":0.95},{"t":10.48,"v":0.78},{"t":10.50,"v":1.05},{"t":10.52,"v":0.88},{"t":10.54,"v":0.96},{"t":10.56,"v":1.10},{"t":10.58,"v":1.00},{"t":10.60,"v":1.18},{"t":10.62,"v":1.05},{"t":10.64,"v":1.25},{"t":10.66,"v":1.12},{"t":10.68,"v":1.30},{"t":10.70,"v":1.08},{"t":10.72,"v":1.22},{"t":10.74,"v":1.35},{"t":10.76,"v":1.15},{"t":10.78,"v":1.28},{"t":10.80,"v":1.38},{"t":10.82,"v":1.20},{"t":10.84,"v":1.32},{"t":10.86,"v":1.45},{"t":10.88,"v":1.25},{"t":10.90,"v":1.40},{"t":10.92,"v":1.55},{"t":10.94,"v":1.30},{"t":10.96,"v":1.48},{"t":10.98,"v":1.62},{"t":11.00,"v":1.38},{"t":11.02,"v":1.52},{"t":11.04,"v":1.78},{"t":11.05,"v":1.70},{"t":11.06,"v":1.45},{"t":11.08,"v":1.35},{"t":11.10,"v":1.55},{"t":11.12,"v":1.42},{"t":11.14,"v":1.30},{"t":11.16,"v":1.48},{"t":11.18,"v":1.38},{"t":11.20,"v":1.52},{"t":11.22,"v":1.32},{"t":11.24,"v":1.45},{"t":11.26,"v":1.40},{"t":11.28,"v":1.58},{"t":11.30,"v":1.65},{"t":11.32,"v":1.35},{"t":11.34,"v":1.45},{"t":11.36,"v":1.25},{"t":11.38,"v":1.38},{"t":11.40,"v":1.15},{"t":11.42,"v":1.05},{"t":11.44,"v":0.95},{"t":11.46,"v":1.10},{"t":11.48,"v":0.85},{"t":11.50,"v":0.98},{"t":11.52,"v":0.75},{"t":11.54,"v":0.88},{"t":11.56,"v":0.68},{"t":11.58,"v":0.80},{"t":11.60,"v":0.62},{"t":11.62,"v":0.72},{"t":11.64,"v":0.55},{"t":11.66,"v":0.68},{"t":11.68,"v":0.50},{"t":11.70,"v":0.62},{"t":11.72,"v":0.45},{"t":11.74,"v":0.58},{"t":11.76,"v":0.70},{"t":11.78,"v":0.52},{"t":11.80,"v":0.40},{"t":11.82,"v":0.56},{"t":11.84,"v":0.48},{"t":11.86,"v":0.62},{"t":11.88,"v":0.42},{"t":11.90,"v":0.55},{"t":11.92,"v":0.35},{"t":11.94,"v":0.50},{"t":11.96,"v":0.42},{"t":11.98,"v":0.32},{"t":12.00,"v":0.46},{"t":12.02,"v":0.30},{"t":12.04,"v":0.38},{"t":12.06,"v":0.22},{"t":12.08,"v":0.32},{"t":12.10,"v":0.15},{"t":12.12,"v":0.28},{"t":12.14,"v":0.10},{"t":12.16,"v":0.22},{"t":12.18,"v":0.32},{"t":12.20,"v":0.12},{"t":12.22,"v":0.05},{"t":12.24,"v":0.18},{"t":12.26,"v":0.08},{"t":12.28,"v":0.22},{"t":12.30,"v":0.02},{"t":12.32,"v":0.12},{"t":12.34,"v":0.20},{"t":12.36,"v":0.06},{"t":12.38,"v":0.14},{"t":12.40,"v":0.02},{"t":12.42,"v":0.10},{"t":12.44,"v":0.18},{"t":12.46,"v":0.05},{"t":12.48,"v":0.12},{"t":12.50,"v":0.22},{"t":12.52,"v":0.08},{"t":12.54,"v":0.15},{"t":12.56,"v":0.25},{"t":12.58,"v":0.10},{"t":12.60,"v":0.18},{"t":12.62,"v":0.05},{"t":12.64,"v":0.14},{"t":12.66,"v":0.22},{"t":12.68,"v":0.10},{"t":12.70,"v":0.16},{"t":12.72,"v":0.06},{"t":12.74,"v":0.20},{"t":12.76,"v":0.12},{"t":12.78,"v":0.24},{"t":12.80,"v":0.08},{"t":12.82,"v":0.16},{"t":12.84,"v":0.22},{"t":12.86,"v":0.12},{"t":12.88,"v":0.18},{"t":12.90,"v":0.26},{"t":12.92,"v":0.14},{"t":12.94,"v":0.20},{"t":12.96,"v":0.28},{"t":12.98,"v":0.16},{"t":13.00,"v":0.22},{"t":13.02,"v":0.30},{"t":13.03,"v":0.40},{"t":13.04,"v":0.48},
{"t":10.09,"v":1.38},{"t":10.11,"v":1.26},{"t":10.13,"v":1.18},{"t":10.15,"v":1.34},{"t":10.17,"v":1.24},{"t":10.19,"v":1.12},{"t":10.21,"v":1.30},{"t":10.23,"v":1.40},{"t":10.25,"v":1.20},{"t":10.27,"v":1.15},{"t":10.29,"v":0.98},{"t":10.31,"v":1.05},{"t":10.33,"v":0.88},{"t":10.35,"v":0.75},{"t":10.37,"v":0.90},{"t":10.39,"v":0.82},{"t":10.41,"v":0.95},{"t":10.43,"v":0.78},{"t":10.45,"v":0.90},{"t":10.47,"v":1.00},{"t":10.49,"v":0.84},{"t":10.51,"v":0.95},{"t":10.53,"v":1.02},{"t":10.55,"v":0.85},{"t":10.57,"v":1.05},{"t":10.59,"v":1.12},{"t":10.61,"v":0.98},{"t":10.63,"v":1.15},{"t":10.65,"v":1.20},{"t":10.67,"v":1.05},{"t":10.69,"v":1.20},{"t":10.71,"v":1.28},{"t":10.73,"v":1.12},{"t":10.75,"v":1.25},{"t":10.77,"v":1.32},{"t":10.79,"v":1.18},{"t":10.81,"v":1.30},{"t":10.83,"v":1.42},{"t":10.85,"v":1.28},{"t":10.87,"v":1.36},{"t":10.89,"v":1.50},{"t":10.91,"v":1.34},{"t":10.93,"v":1.45},{"t":10.95,"v":1.40},{"t":10.97,"v":1.56},{"t":10.99,"v":1.45},{"t":11.01,"v":1.60},{"t":11.03,"v":1.42},{"t":11.07,"v":1.50},{"t":11.09,"v":1.40},{"t":11.11,"v":1.48},{"t":11.13,"v":1.36},{"t":11.15,"v":1.52},{"t":11.17,"v":1.44},{"t":11.19,"v":1.32},{"t":11.21,"v":1.46},{"t":11.23,"v":1.52},{"t":11.25,"v":1.35},{"t":11.27,"v":1.48},{"t":11.29,"v":1.42},{"t":11.31,"v":1.50},{"t":11.33,"v":1.40},{"t":11.35,"v":1.32},{"t":11.37,"v":1.42},{"t":11.39,"v":1.28},{"t":11.41,"v":1.10},
{"t":11.61,"v":0.66},{"t":11.65,"v":0.60},{"t":11.69,"v":0.56},{"t":11.73,"v":0.64},{"t":11.77,"v":0.48},{"t":11.81,"v":0.60},{"t":11.85,"v":0.55},{"t":11.89,"v":0.50},{"t":11.93,"v":0.44},{"t":11.97,"v":0.38}
]},
"mark":{"type":"circle","color":"black","opacity":1,"size":30},
"encoding":{
"x":{"field":"t","type":"quantitative","title":"DATE [dd/mm/yy]"},
"y":{"field":"v","type":"quantitative","scale":{"domain":[0,5],"nice":false,"zero":true},
"axis":{"orient":"left","title":"NH4+ [mg/L]","titlePadding":22,"titleY":126,"values":[0,0.5,1,1.5,2,2.5,3,3.5,4,4.5,5],"format":".2f","labelExpr":"datum.value % 1 == 0 ? datum.label : ''","grid":true,"gridColor":"#808080","gridDash":[5,3],"gridWidth":1.3,"gridOpacity":{"condition":{"test":"datum.value % 1 == 0","value":1},"value":0}}}}},
{"data":{"values":[{"t":1.0,"s":"BACKWASH"},{"t":4.0,"s":"BACKWASH"},{"t":7.0,"s":"BACKWASH"},{"t":10.0,"s":"BACKWASH"},{"t":13.0,"s":"BACKWASH"}]},
"mark":{"type":"rule","strokeWidth":4.5,"strokeCap":"round"},
"encoding":{
"x":{"field":"t","type":"quantitative","title":"DATE [dd/mm/yy]"},
"color":{"field":"s","type":"nominal","scale":{"domain":["EFFLUENT NH4+","EFFLUENT pH","BACKWASH"],"range":["#000000","#d9d9d9","#808080"]},
"legend":{"title":null,"orient":"none","legendX":84.7,"legendY":8.3,"direction":"horizontal","fillColor":"white","strokeColor":"black","padding":9.5,"symbolType":"stroke","symbolSize":3600,"symbolStrokeWidth":4.5,"symbolOffset":27.5,"labelOffset":16,"columnPadding":5,"clipHeight":21,"labelFont":"Liberation Sans","labelFontSize":20.5,"labelColor":"black","labelLimit":400,"labelExpr":"datum.label == 'BACKWASH' ? 'BACKWASH   ' : datum.label","encoding":{"symbols":{"strokeCap":{"value":"round"}}}}},
"strokeDash":{"field":"s","type":"nominal","scale":{"domain":["EFFLUENT NH4+","EFFLUENT pH","BACKWASH"],"range":[[0.1,11],[1,0],[12,11]]},
"legend":{"title":null,"orient":"none","legendX":84.7,"legendY":8.3,"direction":"horizontal","fillColor":"white","strokeColor":"black","padding":9.5,"symbolType":"stroke","symbolSize":3600,"symbolStrokeWidth":4.5,"symbolOffset":27.5,"labelOffset":16,"columnPadding":5,"clipHeight":21,"labelFont":"Liberation Sans","labelFontSize":20.5,"labelColor":"black","labelLimit":400,"labelExpr":"datum.label == 'BACKWASH' ? 'BACKWASH   ' : datum.label","encoding":{"symbols":{"strokeCap":{"value":"round"}}}}}}}
]
}
